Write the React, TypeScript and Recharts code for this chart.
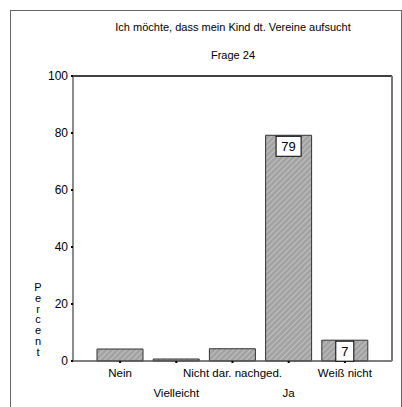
import React from 'react';
import { BarChart, Bar, XAxis, YAxis, LabelList } from 'recharts';

const categories = ['Nein', 'Vielleicht', 'Nicht dar. nachged.', 'Ja', 'Weiß nicht'];
const percents = [4.2, 0.7, 4.3, 79.2, 7.3];
const shownLabels = ['', '', '', '79', '7'];
const yTicks = [0, 20, 40, 60, 80, 100];

const FONT = '"Liberation Sans", Arial, sans-serif';

const data = categories.map((name, i) => ({ name, value: percents[i], label: shownLabels[i] }));

const XTick = (props: any) => {
  const { x, y, payload, index } = props;
  const row = index % 2 === 0 ? 0 : 1;
  return (
    <text x={x} y={y + 12 + row * 20} textAnchor="middle" fontSize={11.5} fontFamily={FONT} fill="#000">
      {payload.value}
    </text>
  );
};

const BoxLabel = (props: any) => {
  const { x, y, width, value } = props;
  if (!value) return null;
  const w = String(value).length * 7 + 11;
  const h = 20;
  const cx = x + width / 2;
  return (
    <g>
      <rect x={cx - w / 2} y={y + 1} width={w} height={h} fill="#fff" stroke="#000" strokeWidth={1} />
      <text x={cx} y={y + 16} textAnchor="middle" fontSize={13} fontFamily={FONT} fill="#000">
        {value}
      </text>
    </g>
  );
};

const PercentLabel = () => {
  const letters = 'Percent'.split('');
  return (
    <text x={38} y={291} textAnchor="middle" fontSize={11} fontFamily={FONT} fill="#000">
      {letters.map((c, i) => (
        <tspan key={i} x={38} dy={i === 0 ? 0 : 10.8}>{c}</tspan>
      ))}
    </text>
  );
};

export default function App() {
  return (
    <div style={{ position: 'absolute', left: 0, top: 0, width: 402, height: 407, background: '#fff', overflow: 'hidden' }}>
      <svg width={0} height={0} style={{ position: 'absolute' }}>
        <defs>
          <pattern id="hatch" width={4} height={4} patternUnits="userSpaceOnUse" patternTransform="rotate(45)">
            <rect width={4} height={4} fill="#a3a3a3" />
            <line x1={0} y1={0} x2={0} y2={4} stroke="#d6d6d6" strokeWidth={1.2} />
          </pattern>
        </defs>
      </svg>
      <div style={{ position: 'absolute', left: 10, top: 10, width: 390, height: 420, border: '1px solid #666' }} />
      <div style={{ position: 'absolute', left: 0, width: 466, top: 21, textAlign: 'center', fontFamily: FONT, fontSize: 11 }}>
        Ich möchte, dass mein Kind dt. Vereine aufsucht
      </div>
      <div style={{ position: 'absolute', left: 0, width: 466, top: 49, textAlign: 'center', fontFamily: FONT, fontSize: 11 }}>
        Frage 24
      </div>
      <div style={{ position: 'absolute', left: 0, top: 0 }}>
        <BarChart width={402} height={407} data={data} margin={{ top: 75, right: 0, bottom: 0, left: 0 }} barCategoryGap={5}>
          <XAxis
            dataKey="name"
            height={46}
            padding={{ left: 19, right: 19 }}
            interval={0}
            axisLine={{ stroke: '#555', strokeWidth: 1.5 }}
            tickLine={{ stroke: '#000', strokeWidth: 2 }}
            tickSize={2}
            tick={<XTick />}
          />
          <XAxis xAxisId="top" dataKey="name" orientation="top" height={1} tick={false} tickLine={false} axisLine={{ stroke: '#000', strokeWidth: 1.5 }} />
          <YAxis
            domain={[0, 100]}
            ticks={yTicks}
            width={73}
            axisLine={{ stroke: '#666', strokeWidth: 1.5 }}
            tickLine={{ stroke: '#000', strokeWidth: 2 }}
            tickSize={2}
            tickMargin={3}
            tick={{ fontSize: 12, fontFamily: FONT, fill: '#000' }}
            label={<PercentLabel />}
          />
          <YAxis yAxisId="right" orientation="right" width={10} domain={[0, 100]} tick={false} tickLine={false} axisLine={{ stroke: '#777', strokeWidth: 2 }} />
          <Bar dataKey="value" fill="url(#hatch)" stroke="#333" strokeWidth={1} isAnimationActive={false}>
            <LabelList dataKey="label" content={<BoxLabel />} />
          </Bar>
        </BarChart>
      </div>
    </div>
  );
}
